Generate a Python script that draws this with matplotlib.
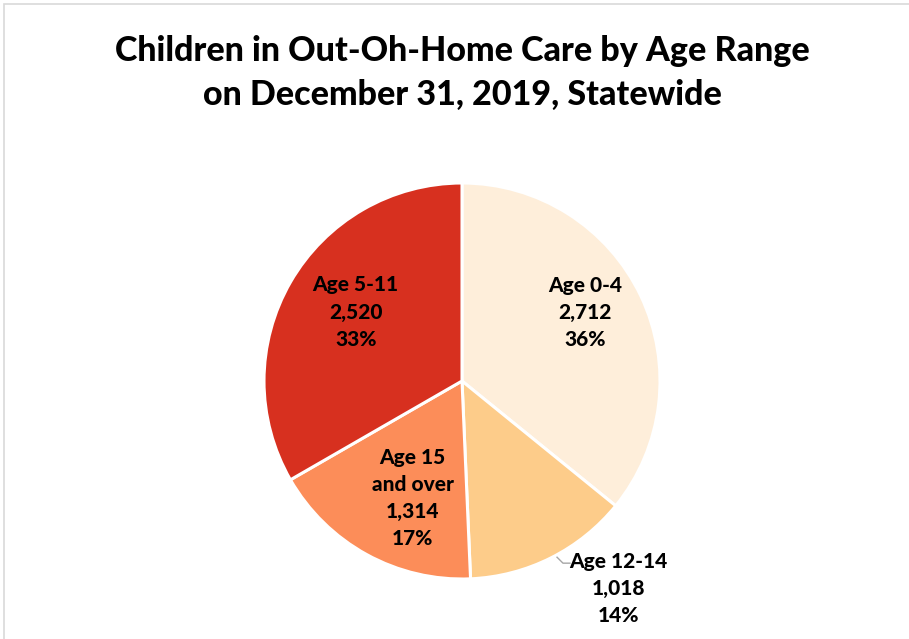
import numpy as np
import matplotlib.pyplot as plt
from matplotlib.patches import Rectangle

plt.rcParams['font.family'] = ['Lato', 'DejaVu Sans']

categories = ['Age 0-4', 'Age 12-14', 'Age 15\nand over', 'Age 5-11']
counts = [2712, 1018, 1314, 2520]
percents = ['36%', '14%', '17%', '33%']
colors = ['#FEEEDA', '#FDCC8A', '#FC8D59', '#D7301F']

# label spots as (angle in degrees, distance as fraction of radius)
label_pos = [(29, 0.71), (-53, 1.31), (-113, 0.64), (147, 0.64)]

fig = plt.figure(figsize=(9.09, 6.39), dpi=100)

# light grey frame, like the excel chart area
fig.patches.append(Rectangle((4 / 909, -0.1), 1.2, (639 - 4) / 639 + 0.1,
                             transform=fig.transFigure, fill=False,
                             edgecolor='#D9D9D9', linewidth=1.2))

fig.text(0.509, 0.886, 'Children in Out-Oh-Home Care by Age Range\non December 31, 2019, Statewide',
         ha='center', va='center', fontsize=24.5, fontweight='black', linespacing=1.45)

R = 198
ax = fig.add_axes([(462 - R) / 909, (639 - 381 - R) / 639, 2 * R / 909, 2 * R / 639])
ax.pie(counts, colors=colors, startangle=90, counterclock=False,
       wedgeprops=dict(edgecolor='white', linewidth=2.2))
ax.set_xlim(-1, 1)
ax.set_ylim(-1, 1)

for cat, n, p, (ang, d) in zip(categories, counts, percents, label_pos):
    x = d * np.cos(np.radians(ang))
    y = d * np.sin(np.radians(ang))
    ax.text(x, y, '{}\n{:,}\n{}'.format(cat, n, p), ha='center', va='center',
            fontsize=15, fontweight='black', linespacing=1.5)

# leader line for the small slice
ax.plot([0.48, 0.51, 0.545], [-0.89, -0.92, -0.92], color='#A6A6A6', linewidth=1)

fig.savefig('out.png', dpi=100)
